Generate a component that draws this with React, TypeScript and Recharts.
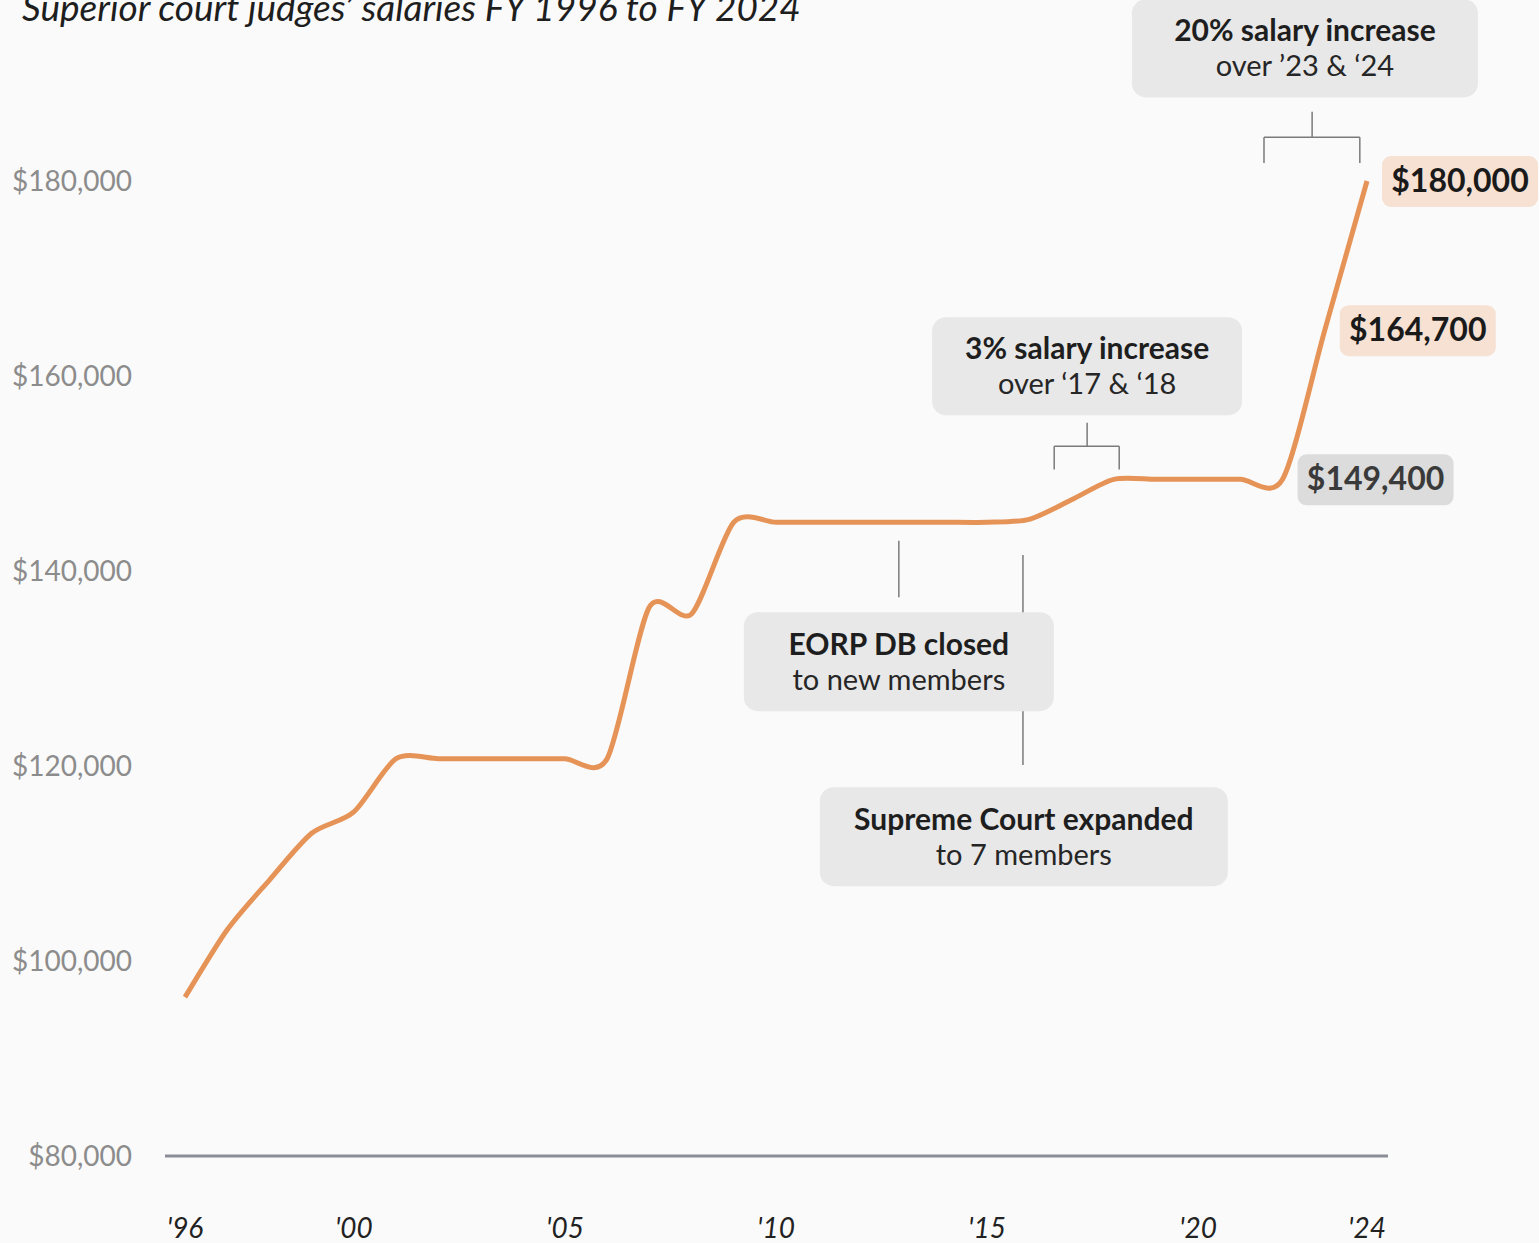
import React from "react";
import {
  LineChart,
  Line,
  XAxis,
  YAxis,
  ReferenceLine,
  ReferenceDot,
} from "recharts";

// fiscal years and superior court judge salary (USD)
const years = [
  1996, 1997, 1998, 1999, 2000, 2001, 2002, 2003, 2004, 2005,
  2006, 2007, 2008, 2009, 2010, 2011, 2012, 2013, 2014, 2015,
  2016, 2017, 2018, 2019, 2020, 2021, 2022, 2023, 2024,
];

const salaries = [
  96300, 103200, 108300, 113100, 115300, 120750, 120750, 120750, 120750, 120750,
  120750, 136300, 135600, 145000, 145000, 145000, 145000, 145000, 145000, 145000,
  145300, 147300, 149400, 149400, 149400, 149400, 149400, 164700, 180000,
];

const yTicks = [80000, 100000, 120000, 140000, 160000, 180000];
const xTicks = [1996, 2000, 2005, 2010, 2015, 2020, 2024];

// callout values shown at the right end of the line
const calloutYears = [2024, 2023, 2022];
const calloutValues = [180000, 164700, 149400];

// annotation texts
const noteTitles = [
  "20% salary increase",
  "3% salary increase",
  "EORP DB closed",
  "Supreme Court expanded",
];
const noteSubtitles = [
  "over \u201923 & \u201824",
  "over \u201817 & \u201818",
  "to new members",
  "to 7 members",
];

const data = years.map((year, i) => ({ year, salary: salaries[i] }));

const FONT = "Lato, 'Noto Sans', sans-serif";
const LINE_COLOR = "#e69357";
const LEADER = "#7a7a7a";

// where each note box sits, in data units
const noteLayout = [
  { x: 2022.53, y: 193600, w: 346, h: 98 },
  { x: 2017.37, y: 161000, w: 310, h: 98 },
  { x: 2012.91, y: 130700, w: 310, h: 99 },
  { x: 2015.87, y: 112750, w: 408, h: 99 },
];

// leader lines / brackets, in data units
const leaders: [number, number, number, number][] = [
  [2022.7, 187100, 2022.7, 184500],
  [2021.56, 184500, 2023.83, 184500],
  [2021.56, 184500, 2021.56, 181850],
  [2023.83, 184500, 2023.83, 181850],
  [2017.37, 155200, 2017.37, 152800],
  [2016.59, 152800, 2018.13, 152800],
  [2016.59, 152800, 2016.59, 150400],
  [2018.13, 152800, 2018.13, 150400],
  [2012.91, 143100, 2012.91, 137300],
  [2015.85, 141650, 2015.85, 120100],
];

// cardinal spline as a d3-style curve factory (recharts accepts one as `type`)
function cardinal(tension: number) {
  const k = (1 - tension) / 6;
  return (context: any) => {
    let pts: number[][] = [];
    return {
      areaStart() {},
      areaEnd() {},
      lineStart() {
        pts = [];
      },
      point(x: number, y: number) {
        pts.push([+x, +y]);
      },
      lineEnd() {
        const n = pts.length;
        if (!n) return;
        context.moveTo(pts[0][0], pts[0][1]);
        for (let i = 0; i < n - 1; i++) {
          const p0 = pts[i === 0 ? 0 : i - 1];
          const p1 = pts[i];
          const p2 = pts[i + 1];
          const p3 = pts[i + 2 < n ? i + 2 : n - 1];
          context.bezierCurveTo(
            p1[0] + k * (p2[0] - p0[0]),
            p1[1] + k * (p2[1] - p0[1]),
            p2[0] - k * (p3[0] - p1[0]),
            p2[1] - k * (p3[1] - p1[1]),
            p2[0],
            p2[1]
          );
        }
      },
    };
  };
}

function NoteBox(props: any) {
  const { cx, cy, w, h, title, sub } = props;
  return (
    <g>
      <rect
        x={cx - w / 2}
        y={cy - h / 2}
        width={w}
        height={h}
        rx={14}
        fill="#e8e8e8"
      />
      <text
        x={cx}
        y={cy - 7}
        textAnchor="middle"
        fontFamily={FONT}
        fontWeight={700}
        fontSize={30}
        fill="#1e1e1e"
      >
        {title}
      </text>
      <text
        x={cx}
        y={cy + 28}
        textAnchor="middle"
        fontFamily={FONT}
        fontSize={29}
        fill="#262626"
      >
        {sub}
      </text>
    </g>
  );
}

function ValueTag(props: any) {
  const { cx, cy, label, fill, color } = props;
  const x = cx + 93;
  return (
    <g>
      <rect x={x - 78} y={cy - 25} width={156} height={51} rx={9} fill={fill} />
      <text
        x={x}
        y={cy + 11}
        textAnchor="middle"
        fontFamily={FONT}
        fontWeight={700}
        fontSize={32}
        fill={color}
      >
        {label}
      </text>
    </g>
  );
}

const fmtMoney = (v: number) => "$" + v.toLocaleString("en-US");

function App() {
  return (
    <div
      style={{
        position: "absolute",
        left: 0,
        top: 0,
        width: 1539,
        height: 1243,
        background: "#fafafa",
        overflow: "hidden",
      }}
    >
      <div
        style={{
          position: "absolute",
          left: 22,
          top: -12,
          fontFamily: FONT,
          fontStyle: "italic",
          fontSize: 37,
          lineHeight: "37px",
          color: "#1e1e1e",
          whiteSpace: "nowrap",
        }}
      >
        Superior court judges’ salaries FY 1996 to FY 2024
      </div>

      <LineChart
        width={1539}
        height={1243}
        data={data}
        margin={{ top: 181, right: 151, bottom: 27, left: 0 }}
        style={{ position: "absolute", left: 0, top: 0 }}
      >
        <XAxis
          dataKey="year"
          type="number"
          domain={[1996, 2024]}
          ticks={xTicks}
          padding={{ left: 20, right: 21 }}
          height={60}
          tickSize={0}
          tickMargin={62}
          tickLine={false}
          axisLine={{ stroke: "#8a8d96", strokeWidth: 3 }}
          tickFormatter={(v: number) => "'" + String(v).slice(2)}
          tick={{
            fill: "#222",
            fontSize: 28,
            fontStyle: "italic",
            fontFamily: FONT,
          }}
        />
        <YAxis
          type="number"
          domain={[80000, 180000]}
          ticks={yTicks}
          width={165}
          tickSize={0}
          tickMargin={33}
          axisLine={false}
          tickLine={false}
          tickFormatter={fmtMoney}
          tick={{ fill: "#8c8c8c", fontSize: 28, fontFamily: FONT }}
        />

        <Line
          type={cardinal(0.2) as any}
          dataKey="salary"
          stroke={LINE_COLOR}
          strokeWidth={5}
          dot={false}
          activeDot={false}
          isAnimationActive={false}
        />

        {leaders.map(([x1, y1, x2, y2], i) => (
          <ReferenceLine
            key={"l" + i}
            segment={[
              { x: x1, y: y1 },
              { x: x2, y: y2 },
            ]}
            stroke={LEADER}
            strokeWidth={1.5}
            ifOverflow="visible"
          />
        ))}

        {noteLayout.map((n, i) => (
          <ReferenceDot
            key={"n" + i}
            x={n.x}
            y={n.y}
            r={0}
            ifOverflow="visible"
            shape={(p: any) => (
              <NoteBox
                cx={p.cx}
                cy={p.cy}
                w={n.w}
                h={n.h}
                title={noteTitles[i]}
                sub={noteSubtitles[i]}
              />
            )}
          />
        ))}

        {calloutYears.map((yr, i) => (
          <ReferenceDot
            key={"c" + i}
            x={yr}
            y={calloutValues[i]}
            r={0}
            ifOverflow="visible"
            shape={(p: any) => (
              <ValueTag
                cx={p.cx}
                cy={p.cy}
                label={fmtMoney(calloutValues[i])}
                fill={i === 2 ? "#dcdcdc" : "#f6e1d3"}
                color={i === 2 ? "#3a3a3a" : "#1a1a1a"}
              />
            )}
          />
        ))}
      </LineChart>
    </div>
  );
}

export default App;
